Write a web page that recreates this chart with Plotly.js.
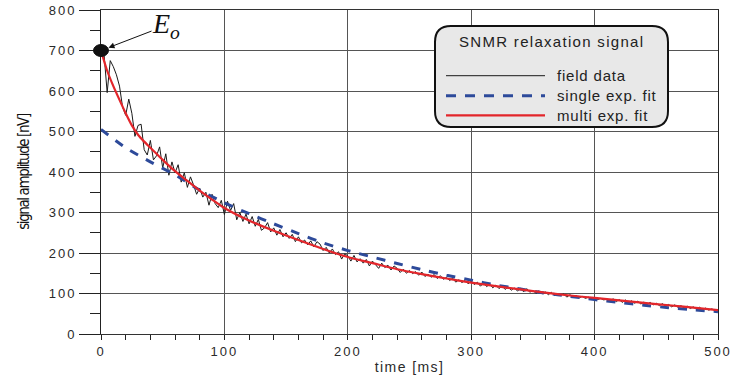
<!DOCTYPE html>
<html>
<head>
<meta charset="utf-8">
<script src="https://cdn.plot.ly/plotly-3.0.1.min.js"></script>
<style>
html,body{margin:0;padding:0;background:#fff;}
#chart{width:736px;height:379px;}
.xtick text,.ytick text{letter-spacing:2px;}
.g-xtitle text{letter-spacing:1.4px;}
.g-ytitle text{letter-spacing:-1.4px;}
</style>
</head>
<body>
<div id="chart"></div>
<script>
// ---- data ----
const fieldStart = 0;      // ms
const fieldStep = 2.5;     // ms between samples
const fieldValues = [
700,690,596,675,660,640,612,560,540,580,545,488,515,518,455,442,478,430,440,462,
410,445,392,425,398,418,375,398,362,388,368,345,360,338,350,318,345,322,312,330,
295,328,305,322,282,300,278,296,272,290,266,283,256,262,275,252,262,244,258,240,
250,236,246,228,240,225,232,220,230,215,228,222,206,214,200,210,196,203,185,198,
193,180,194,178,186,175,184,168,180,170,162,175,164,170,158,168,162,152,160,150,
157,149,154,145,153,142,148,140,147,137,144,135,140,132,138,128,134,127,132,124,
130,122,128,118,126,117,123,114,121,112,119,110,116,108,114,106,113,104,112,103,
108,100,107,99,104,97,103,95,100,96,99,91,97,92,95,89,93,88,91,86,
90,85,88,84,87,81,87,80,85,78,84,77,82,76,81,74,79,73,78,72,
76,70,75,69,73,67,72,66,70,64,69,63,67,61,66,60,64,59,62,58,
60
];
const singleFitTimes = [0,20,40,60,80,100,120,140,160,180,200,220,240,260,280,300,320,340,360,380,400,420,440,460,480,500];
const singleFitValues = [505,460,425,393,355,324,297,272,248,225,206,190,174,159,145,133,121,111,101,93,85,78,71,65,60,55];
const multiFitTimes = [0,5,10,15,20,25,30,35,40,45,50,60,70,80,90,100,120,140,160,180,200,220,240,260,280,300,320,340,360,380,400,420,440,460,480,500];
const multiFitValues = [700,650,612,578,545,515,492,475,460,445,430,402,378,354,332,311,280,255,232,210,190,175,160,148,137,127,118,110,102,95,89,83,77,71,65,59];
const seriesNames = ['field data','single exp. fit','multi exp. fit'];
const legendTitle = 'SNMR relaxation signal';
const xTitle = 'time [ms]';
const yTitle = 'signal amplitude [nV]';
const xRange = [0,500];
const yRange = [0,800];
const e0Time = 0, e0Value = 700;

// ---- styles ----
const fieldTimes = fieldValues.map((v,i)=>fieldStart + i*fieldStep);
const styles = [
  {color:'#1a1a1a', width:1, dash:'solid'},
  {color:'#2d4a9a', width:3, dash:'9px,9px'},
  {color:'#e3262b', width:2.2, dash:'solid'}
];

const traces = [
  {x:fieldTimes, y:fieldValues, name:seriesNames[0], type:'scatter', mode:'lines', line:styles[0]},
  {x:singleFitTimes, y:singleFitValues, name:seriesNames[1], type:'scatter', mode:'lines', line:Object.assign({shape:'spline', smoothing:0.6},styles[1])},
  {x:multiFitTimes, y:multiFitValues, name:seriesNames[2], type:'scatter', mode:'lines', line:Object.assign({shape:'spline', smoothing:0.6},styles[2])}
];

// plot-area geometry (pixels) used for legend decoration placement
const M = {l:101, r:18, t:10, b:45};
const W = 736 - M.l - M.r, H = 379 - M.t - M.b;
const px = x => (x - M.l) / W;
const py = y => (379 - M.b - y) / H;

// rounded legend box
const bx0=435, bx1=668, by0=26, by1=127, rr=16;
const P = (x,y)=>px(x).toFixed(5)+','+py(y).toFixed(5);
const boxPath = 'M'+P(bx0+rr,by0)+' L'+P(bx1-rr,by0)+' Q'+P(bx1,by0)+' '+P(bx1,by0+rr)+
  ' L'+P(bx1,by1-rr)+' Q'+P(bx1,by1)+' '+P(bx1-rr,by1)+' L'+P(bx0+rr,by1)+
  ' Q'+P(bx0,by1)+' '+P(bx0,by1-rr)+' L'+P(bx0,by0+rr)+' Q'+P(bx0,by0)+' '+P(bx0+rr,by0)+' Z';

const shapes = [
  {type:'path', xref:'paper', yref:'paper', path:boxPath, fillcolor:'#e8e8e8', line:{color:'#111', width:2}, layer:'above'},
  // E0 marker
  {type:'circle', xref:'paper', yref:'paper', xsizemode:'pixel', ysizemode:'pixel',
   xanchor:(e0Time-xRange[0])/(xRange[1]-xRange[0]), yanchor:(e0Value-yRange[0])/(yRange[1]-yRange[0]),
   x0:-7.5, x1:7.5, y0:-6, y1:6, fillcolor:'#111', line:{color:'#111', width:1}, layer:'above'}
];
const rowY = [75.7, 95.7, 115.3];
const annotations = [
  {xref:'paper', yref:'paper', x:px(551), y:py(41.5), xanchor:'center', yanchor:'middle', showarrow:false,
   text:'<span style="letter-spacing:1.3px">'+legendTitle+'</span>', font:{family:'Liberation Sans, Arial', size:15, color:'#222'}},
  // E0 label with arrow pointing at the first sample
  {xref:'x', yref:'y', x:e0Time, y:e0Value, ax:65, ay:-25, axref:'pixel', ayref:'pixel', showarrow:true,
   arrowhead:2, arrowsize:1.2, arrowwidth:1, arrowcolor:'#111', standoff:8, borderpad:0,
   text:'<i>E<sub>o</sub></i>', font:{family:'Liberation Serif, Times New Roman', size:28, color:'#111'}}
];
seriesNames.forEach((n,i)=>{
  shapes.push({type:'line', xref:'paper', yref:'paper', x0:px(446), x1:px(545), y0:py(rowY[i]), y1:py(rowY[i]),
    line:{color:styles[i].color, width:styles[i].width, dash: i===1 ? '10px,9px' : 'solid'}, layer:'above'});
  annotations.push({xref:'paper', yref:'paper', x:px(555), y:py(rowY[i]), xanchor:'left', yanchor:'middle', showarrow:false,
    text:'<span style="letter-spacing:0.8px">'+n+'</span>', font:{family:'Liberation Sans, Arial', size:15, color:'#222'}});
});

const tickFont = {family:'Liberation Sans, Arial', size:13, color:'#2a2a2a'};
const layout = {
  width:736, height:379,
  margin:M,
  paper_bgcolor:'#fff', plot_bgcolor:'#fff',
  showlegend:false,
  xaxis:{
    range:xRange, dtick:100, tick0:0, ticks:'outside', ticklen:5, tickcolor:'#222',
    showgrid:true, gridcolor:'#555', gridwidth:1, zeroline:false,
    showline:true, linecolor:'#333', linewidth:1, mirror:true,
    tickfont:tickFont,
    minor:{dtick:20, ticks:'outside', ticklen:5, tickcolor:'#222', showgrid:false},
    title:{text:xTitle, font:{family:'Liberation Sans, Arial', size:14, color:'#2a2a2a'}, standoff:4}
  },
  yaxis:{
    range:yRange, dtick:100, tick0:0, ticks:'outside', ticklen:21, tickcolor:'#222',
    showgrid:true, gridcolor:'#555', gridwidth:1, zeroline:false,
    showline:true, linecolor:'#222', linewidth:1, mirror:true,
    tickfont:tickFont,
    minor:{dtick:50, ticks:'outside', ticklen:10, tickcolor:'#222', showgrid:false},
    title:{text:yTitle, font:{family:'Liberation Sans Narrow, DejaVu Sans Condensed, Liberation Sans', size:15, color:'#111'}, standoff:15}
  },
  shapes:shapes,
  annotations:annotations
};
Plotly.newPlot('chart', traces, layout, {displayModeBar:false, staticPlot:true});
</script>
</body>
</html>
